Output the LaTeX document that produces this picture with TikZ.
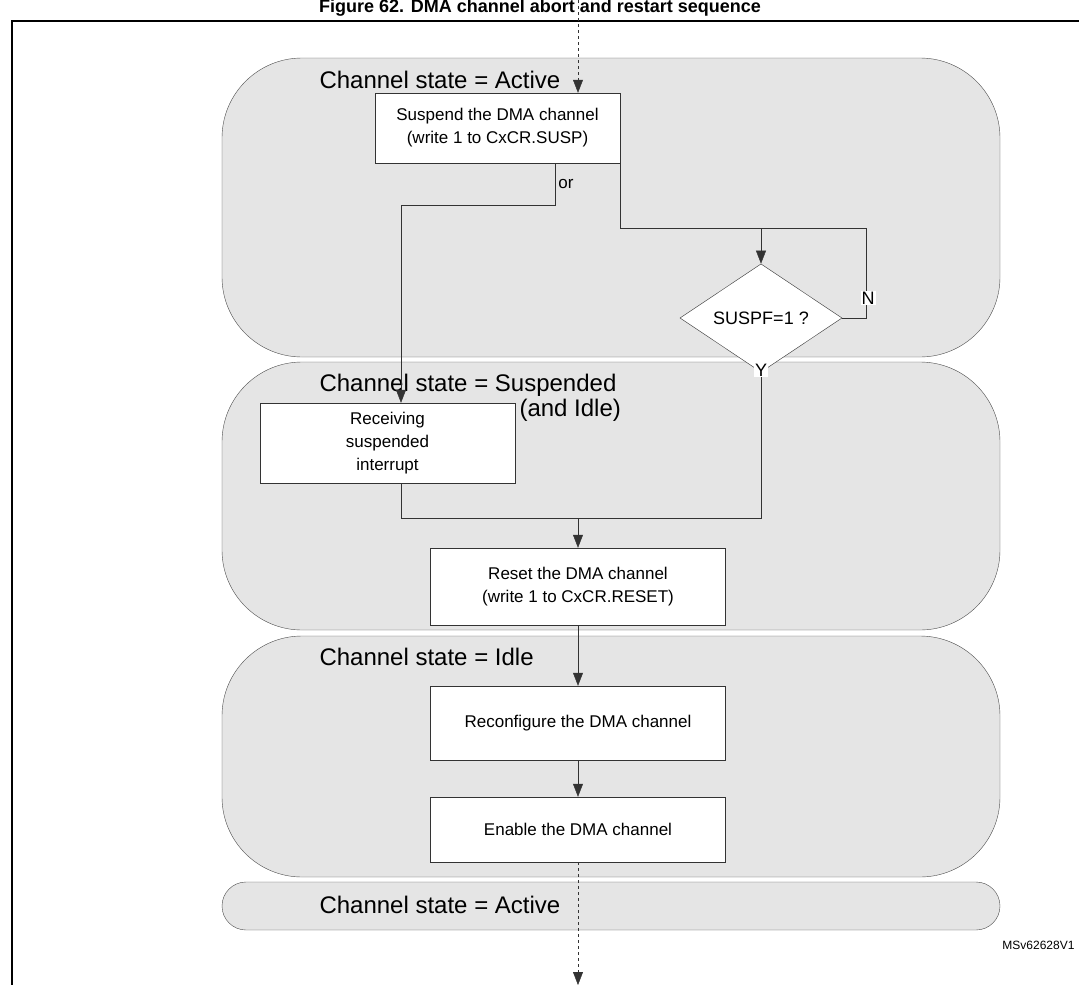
\documentclass[tikz,border=0pt]{standalone}
\usepackage{fontspec}
\setmainfont{Liberation Sans}
\usetikzlibrary{positioning,shapes.geometric,arrows.meta}

\tikzset{
  zone/.style={draw=black!70,fill=black!10,rounded corners=80pt},
  proc/.style={draw=black!80,fill=white,inner sep=2pt,align=center,font=\fontsize{17}{23}\selectfont},
  decide/.style={draw=black!80,fill=white,diamond,minimum width=162pt,minimum height=72pt,inner sep=0pt,font=\fontsize{18}{20}\selectfont},
  lbl/.style={anchor=west,font=\fontsize{24}{26}\selectfont},
  yn/.style={fill=white,inner sep=1pt,font=\fontsize{18}{20}\selectfont},
  flow/.style={draw=black!80,-{Triangle[length=13pt,width=10pt]}},
  wire/.style={draw=black!80}
}

\begin{document}
\begin{tikzpicture}[x=1pt,y=-1pt]
\useasboundingbox (0,0) rectangle (1079,985);
\clip (0,0) rectangle (1079,985);
% frame and title
\node[font=\bfseries\fontsize{18}{22}\selectfont] (title) at (540,8) {Figure 62. DMA channel abort and restart sequence};
\draw[line width=1.5pt] (12,990) -- (12,21) -- (1085,21);
% channel states
\draw[zone] (222,58) rectangle (1000,357);
\draw[zone] (222,362) rectangle (1000,630);
\draw[zone] (222,636) rectangle (1000,877);
\draw[zone,rounded corners=24pt] (222,882) rectangle (1000,930);
\node[lbl] (sact) at (316,80) {Channel state = Active};
\node[lbl] (ssus) at (316,385) {Channel state = Suspended};
\node[lbl] (sidl) at (516,410) {(and Idle)};
\node[lbl] (sidle) at (316,657) {Channel state = Idle};
\node[lbl] (sact2) at (316,905) {Channel state = Active};
% steps
\node[proc,minimum width=245pt,minimum height=70pt] (susp) at (497.5,128) {Suspend the DMA channel\\(write 1 to CxCR.SUSP)};
\node[decide] (chk) at (761,318) {SUSPF=1 ?};
\node[proc,minimum width=255pt,minimum height=80pt] (recv) at (387.5,443) {Receiving\\suspended\\interrupt};
\node[proc,minimum width=295pt,minimum height=77pt] (reset) at (578,586.5) {Reset the DMA channel\\(write 1 to CxCR.RESET)};
\node[proc,minimum width=295pt,minimum height=74pt] (reconf) at (578,723) {Reconfigure the DMA channel};
\node[proc,minimum width=295pt,minimum height=65pt] (enab) at (578,829.5) {Enable the DMA channel};
\node[font=\fontsize{17}{20}\selectfont] (or) at (566,184) {or};
\node[font=\fontsize{12}{14}\selectfont,anchor=east] (ref) at (1078,945) {MSv62628V1};
\coordinate (top) at (578,0);
\coordinate (bot) at (578,985);
\coordinate (merge) at (578,518);
% connectors
\draw[flow,dashed] (top) -- (susp.north -| top);
\draw[flow] (susp.south -| 555,0) |- (401,205) -- (recv.north -| 401,0);
\draw[wire] (susp.south -| 620,0) |- (866,228) |- (chk.east);
\draw[flow] (chk.north |- 0,228) -- (chk.north);
\node[yn] (n) at (868,298) {N};
\draw[wire] (chk.south) |- (merge);
\draw[wire] (recv.south -| 401,0) |- (merge);
\node[yn] (y) at (761,370) {Y};
\draw[flow] (merge) -- (reset.north);
\draw[flow] (reset.south) -- (reconf.north);
\draw[flow] (reconf.south) -- (enab.north);
\draw[flow,dashed] (enab.south) -- (bot);
\end{tikzpicture}
\end{document}
